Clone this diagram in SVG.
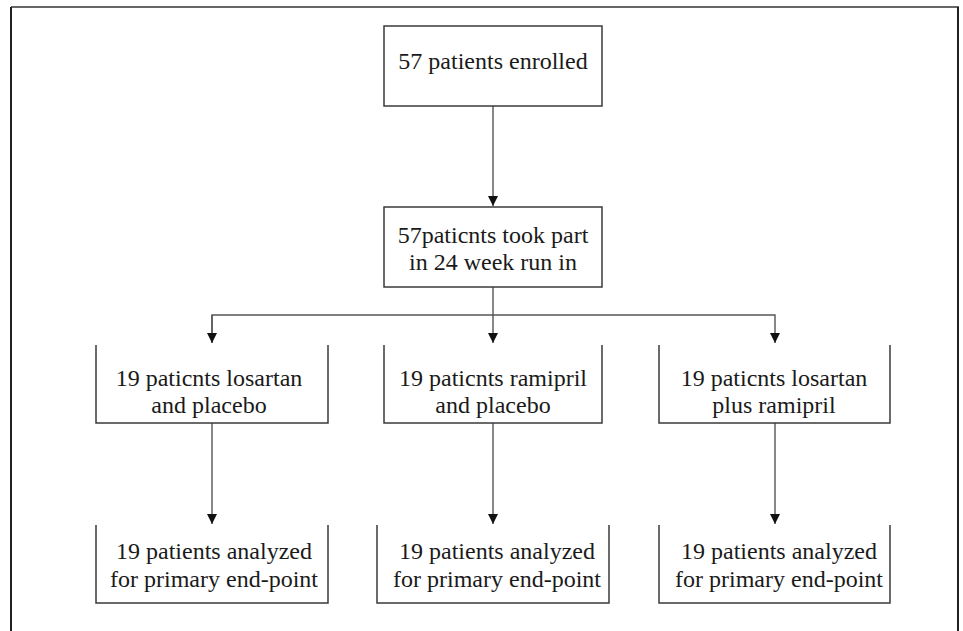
<svg xmlns="http://www.w3.org/2000/svg" width="963" height="631" viewBox="0 0 963 631">
<defs>
<style>
.t{font-family:'Liberation Serif','DejaVu Serif',serif;font-size:24px;fill:#1a1a1a;text-anchor:middle}
.box{fill:#fff;stroke:#3a3a3a;stroke-width:1.5}
.open{fill:none;stroke:#3a3a3a;stroke-width:1.5}
.c{fill:none;stroke:#555;stroke-width:1.4}
</style>
<marker id="ah" viewBox="0 0 10 10" refX="10" refY="5" markerWidth="10" markerHeight="10" markerUnits="userSpaceOnUse" orient="auto">
<path d="M0,0 L10,5 L0,10 Z" fill="#111"/>
</marker>
</defs>
<rect width="963" height="631" fill="#fff"/>
<g id="frame">
<line x1="11" y1="7" x2="959" y2="7" stroke="#666" stroke-width="2"/>
<line x1="11" y1="7" x2="11" y2="631" stroke="#222" stroke-width="2"/>
<line x1="958" y1="7" x2="958" y2="631" stroke="#222" stroke-width="2"/>
</g>
<g id="connectors">
<line class="c" x1="493" y1="106" x2="493" y2="206" marker-end="url(#ah)"/>
<line class="c" x1="493" y1="287" x2="493" y2="315"/>
<polyline class="c" points="212,343 212,315 775,315 775,343" marker-end="url(#ah)"/>
<line class="c" x1="212" y1="315" x2="212" y2="343" marker-end="url(#ah)"/>
<line class="c" x1="493" y1="315" x2="493" y2="343" marker-end="url(#ah)"/>
<line class="c" x1="212" y1="423" x2="212" y2="524" marker-end="url(#ah)"/>
<line class="c" x1="493" y1="423" x2="493" y2="524" marker-end="url(#ah)"/>
<line class="c" x1="775" y1="423" x2="775" y2="524" marker-end="url(#ah)"/>
</g>
<g font-family="Liberation Serif, DejaVu Serif, serif">
<g id="n1">
<rect class="box" x="384" y="26" width="218" height="80"/>
<text class="t" x="493" y="69">57 patients enrolled</text>
</g>
<g id="n2">
<rect class="box" x="384" y="207" width="218" height="80"/>
<text class="t" x="493" y="243">57paticnts took part</text>
<text class="t" x="493" y="270">in 24 week run in</text>
</g>
<g id="n3">
<path class="open" d="M96,345 V423 H328 V345"/>
<text class="t" x="209" y="386">19 paticnts losartan</text>
<text class="t" x="209" y="413">and placebo</text>
</g>
<g id="n4">
<path class="open" d="M384,345 V423 H602 V345"/>
<text class="t" x="493" y="386">19 paticnts ramipril</text>
<text class="t" x="493" y="413">and placebo</text>
</g>
<g id="n5">
<path class="open" d="M659,345 V423 H890 V345"/>
<text class="t" x="774" y="386">19 paticnts losartan</text>
<text class="t" x="774" y="413">plus ramipril</text>
</g>
<g id="n6">
<path class="open" d="M96,525 V603 H328 V525"/>
<text class="t" x="214" y="559">19 patients analyzed</text>
<text class="t" x="214" y="587">for primary end-point</text>
</g>
<g id="n7">
<path class="open" d="M377,525 V603 H609 V525"/>
<text class="t" x="497" y="559">19 patients analyzed</text>
<text class="t" x="497" y="587">for primary end-point</text>
</g>
<g id="n8">
<path class="open" d="M659,525 V603 H890 V525"/>
<text class="t" x="779" y="559">19 patients analyzed</text>
<text class="t" x="779" y="587">for primary end-point</text>
</g>
</g>
</svg>
